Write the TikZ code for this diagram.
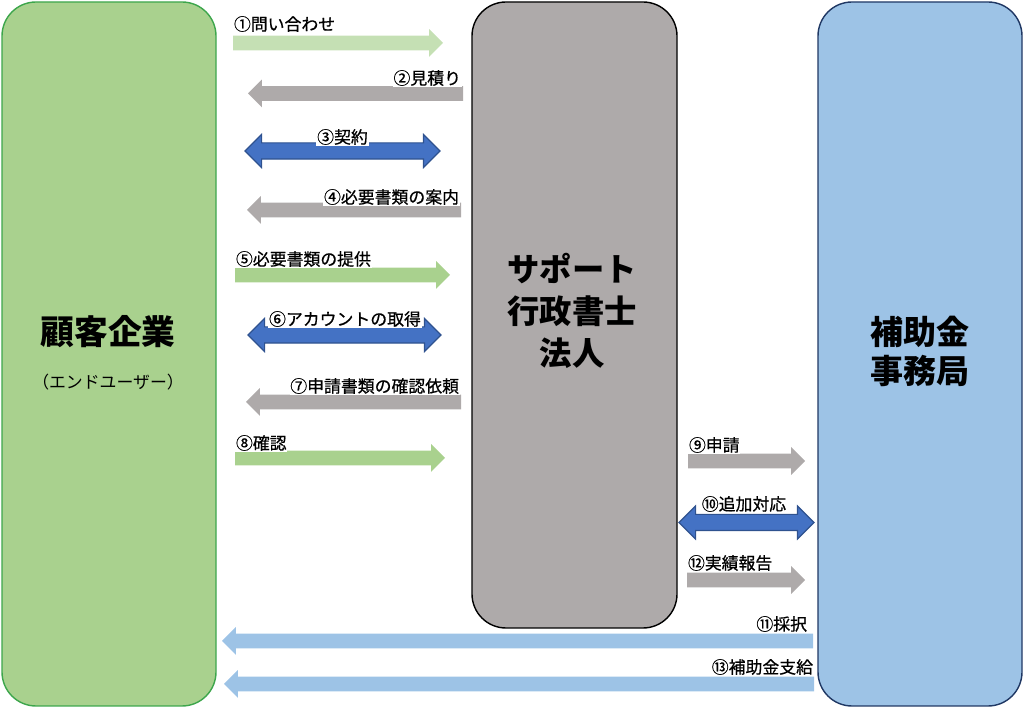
\documentclass[tikz,border=0pt]{standalone}
\usepackage{fontspec}
\setmainfont{Noto Sans CJK JP}
\newfontfamily\lblfont{Noto Sans CJK JP}[FakeBold=0.6]
\usetikzlibrary{shapes.arrows,positioning}
\definecolor{custFill}{HTML}{A9D18E}
\definecolor{custLine}{HTML}{3DA64C}
\definecolor{suppFill}{HTML}{AEAAAA}
\definecolor{offFill}{HTML}{9DC3E6}
\definecolor{offLine}{HTML}{203864}
\definecolor{paleGreen}{HTML}{C5E0B4}
\definecolor{midBlue}{HTML}{4472C4}
\definecolor{darkBlue}{HTML}{2F528F}
\tikzstyle{party}=[rectangle,rounded corners=0.85cm,line width=1pt,inner sep=0pt]
\tikzstyle{title}=[inner sep=0pt,align=center,font=\bfseries]
\tikzstyle{sarrow}=[single arrow,anchor=tail,inner xsep=0pt,inner ysep=0.175cm,outer sep=0pt,single arrow head extend=0.1625cm]
\tikzstyle{darrow}=[double arrow,inner xsep=0pt,inner ysep=0.1875cm,outer sep=0pt,double arrow head extend=0.2125cm,draw=darkBlue,fill=midBlue,line width=0.8pt]
\tikzstyle{toleft}=[shape border rotate=180]
\tikzstyle{lbl}=[inner sep=0.5pt,fill=white,font=\fontsize{12}{14}\lblfont]

\begin{document}
\begin{tikzpicture}
  \useasboundingbox (0,0) rectangle (25.6,17.7);
  % three parties
  \node[party,draw=custLine,fill=custFill,minimum width=5.35cm,minimum height=17.6cm] (cust) at (2.725,8.85){};
  \node[party,draw=black,fill=suppFill,minimum width=5.125cm,minimum height=15.65cm] (supp) at (14.3625,9.825){};
  \node[party,draw=offLine,fill=offFill,minimum width=5.1cm,minimum height=17.6cm] (office) at (23.0,8.85){};
  \node[title,font=\fontsize{24}{30}\selectfont\bfseries] (custName) at (2.7,9.4){顧客企業};
  \node[title,font=\fontsize{12}{15}\selectfont] (custSub) at (2.7,8.15){（エンドユーザー）};
  \node[title,font=\fontsize{23}{30}\selectfont\bfseries] (suppName) at (14.3,9.925){サポート\\行政書士\\法人};
  \node[title,font=\fontsize{23.5}{28}\selectfont\bfseries] (offName) at (23.0,8.9125){補助金\\事務局};
  % block arrows, placed by their tails
  \node[sarrow,fill=paleGreen,minimum height=5.25cm] (inquiry) at (5.825,16.625){};
  \node[sarrow,toleft,fill=suppFill,minimum height=5.375cm] (estimate) at (11.575,15.3625){};
  \node[darrow,minimum height=4.875cm] (contract) at (8.5625,13.925){};
  \node[sarrow,toleft,fill=suppFill,minimum height=5.35cm] (docGuide) at (11.525,12.45){};
  \node[sarrow,fill=custFill,minimum height=5.375cm] (docSend) at (5.875,10.825){};
  \node[darrow,minimum height=4.825cm] (account) at (8.6125,9.325){};
  \node[sarrow,toleft,fill=suppFill,minimum height=5.375cm] (checkReq) at (11.525,7.65){};
  \node[sarrow,fill=custFill,minimum height=5.25cm] (check) at (5.875,6.25){};
  \node[sarrow,fill=suppFill,minimum height=2.925cm] (apply) at (17.2,6.175){};
  \node[darrow,minimum height=3.375cm] (extra) at (18.6625,4.6375){};
  \node[sarrow,fill=suppFill,minimum height=2.95cm] (report) at (17.175,3.2){};
  \node[sarrow,toleft,fill=offFill,minimum height=14.775cm] (adopt) at (20.325,1.675){};
  \node[sarrow,toleft,fill=offFill,minimum height=14.75cm] (payout) at (20.35,0.6){};
  % labels
  \node[lbl,anchor=west] (inquiryLbl) at (5.825,17.1){①問い合わせ};
  \node[lbl,anchor=east] (estimateLbl) at (11.55,15.75){②見積り};
  \node[lbl] (contractLbl) at (8.5625,14.275){③契約};
  \node[lbl,anchor=east] (docGuideLbl) at (11.5,12.775){④必要書類の案内};
  \node[lbl,anchor=west] (docSendLbl) at (5.875,11.225){⑤必要書類の提供};
  \node[lbl] (accountLbl) at (8.625,9.725){⑥アカウントの取得};
  \node[lbl,anchor=east] (checkReqLbl) at (11.5,8.05){⑦申請書類の確認依頼};
  \node[lbl,anchor=west] (checkLbl) at (5.875,6.625){⑧確認};
  \node[lbl,anchor=west] (applyLbl) at (17.2,6.575){⑨申請};
  \node[lbl] (extraLbl) at (18.6,5.1){⑩追加対応};
  \node[lbl,anchor=west] (reportLbl) at (17.175,3.625){⑫実績報告};
  \node[lbl,anchor=east] (adoptLbl) at (20.2,2.1){⑪採択};
  \node[lbl,anchor=east] (payoutLbl) at (20.35,1.025){⑬補助金支給};
\end{tikzpicture}
\end{document}
